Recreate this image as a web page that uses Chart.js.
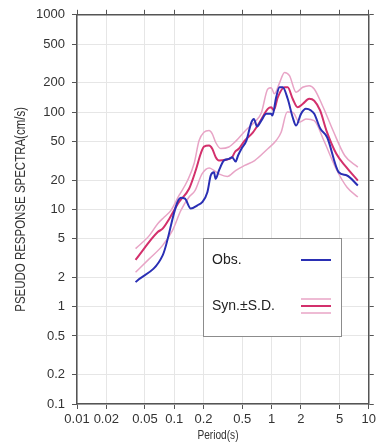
<!DOCTYPE html>
<html>
<head>
<meta charset="utf-8">
<script src="https://cdn.jsdelivr.net/npm/chart.js@4.4.1/dist/chart.umd.min.js"></script>
<style>
  html, body { margin: 0; padding: 0; background: #fff; }
  #wrap { width: 379px; height: 448px; }
</style>
</head>
<body>
<div id="wrap"><canvas id="psChart" width="379" height="448"></canvas></div>
<script>
// ----- axis ticks -----
const periodTicks = [0.01, 0.02, 0.05, 0.1, 0.2, 0.5, 1, 2, 5, 10];
const periodLabels = ['0.01', '0.02', '0.05', '0.1', '0.2', '0.5', '1', '2', '5', '10'];
const spectraTicks = [0.1, 0.2, 0.5, 1, 2, 5, 10, 20, 50, 100, 200, 500, 1000];
const spectraLabels = ['0.1', '0.2', '0.5', '1', '2', '5', '10', '20', '50', '100', '200', '500', '1000'];
const xTitle = 'Period(s)';
const yTitle = 'PSEUDO RESPONSE SPECTRA(cm/s)';

// ----- Obs. -----
const obsPeriod = [0.040, 0.076, 0.117, 0.129, 0.148, 0.173, 0.194, 0.219, 0.237, 0.256, 0.266, 0.288,
  0.324, 0.364, 0.394, 0.427, 0.453, 0.491, 0.552, 0.621, 0.659, 0.711, 0.785, 0.884, 0.993, 1.02,
  1.117, 1.208, 1.304, 1.467, 1.65, 1.79, 2.01, 2.26, 2.54, 2.75, 3.18, 3.73, 4.91, 5.97, 7.72];
const obsValue = [1.79, 3.37, 13.2, 12.9, 10.2, 11.0, 11.9, 15.0, 22.3, 24.1, 20.6, 25.1,
  31.8, 33.1, 34.4, 31, 35.8, 42, 51, 78.6, 85, 71, 81.8, 95.9, 95.9, 92,
  142, 180, 180, 137, 88.5, 72.7, 95.9, 108, 104, 95.9, 67.3, 55.2, 24.1, 22.3, 17.6];

// ----- Syn. (mean) -----
const synPeriod = [0.040, 0.0676, 0.076, 0.089, 0.112, 0.142, 0.166, 0.187, 0.202, 0.228, 0.246, 0.267,
  0.288, 0.337, 0.394, 0.419, 0.461, 0.53, 0.645, 0.755, 0.916, 0.993, 1.055, 1.16, 1.36, 1.467,
  1.65, 1.855, 2.09, 2.44, 2.75, 3.16, 3.67, 4.64, 5.87, 7.72];
const synValue = [3.03, 5.85, 6.34, 8.03, 11.9, 16.3, 25.1, 37.3, 44.3, 45.3, 42, 34.4,
  31.8, 32.4, 34.4, 38.7, 42, 51, 62, 78.6, 108, 112, 104, 142, 180, 180,
  137, 112, 121, 137, 131, 104, 64.6, 37.3, 27.2, 19.8];

// ----- Syn. + S.D. -----
const synUpPeriod = [0.040, 0.0556, 0.0676, 0.079, 0.0925, 0.112, 0.137, 0.16, 0.18, 0.202, 0.228, 0.246,
  0.267, 0.30, 0.364, 0.427, 0.55, 0.68, 0.785, 0.916, 0.993, 1.07, 1.21, 1.36, 1.53, 1.79,
  2.09, 2.44, 2.75, 3.40, 4.29, 5.65, 7.72];
const synUpValue = [3.95, 5.41, 7.13, 8.34, 9.77, 13.9, 19.8, 29.6, 51, 62, 64.6, 59.8,
  48.7, 42.3, 43.8, 50, 66, 80, 98, 173, 178, 154, 200, 256, 237, 160,
  180, 187, 173, 112, 64.6, 35.8, 27.2];

// ----- Syn. - S.D. -----
const synLowPeriod = [0.040, 0.0556, 0.076, 0.096, 0.117, 0.142, 0.164, 0.193, 0.229, 0.256, 0.295, 0.351,
  0.427, 0.53, 0.671, 0.916, 1.117, 1.256, 1.45, 1.65, 1.93, 2.26, 2.75, 3.45, 4.71, 5.97, 7.72];
const synLowValue = [2.26, 3.12, 4.27, 6.09, 9.77, 13.4, 15.7, 23.2, 26.7, 25.1, 22.9, 21.8,
  25.1, 28.3, 31.8, 42, 51, 62, 100, 99.5, 78.6, 85, 81.8, 51, 25.1, 16.9, 13.4];

const obsColor = '#2a2fb4';
const synColor = '#d3306c';
const sdColor = '#e8a4c6';
const frameColor = '#555';
const labelFont = { family: '"Liberation Sans", Arial, Helvetica, sans-serif', size: 13 };

function toPoints(xs, ys) {
  return xs.map((x, i) => ({ x: x, y: ys[i] }));
}

// legend box drawn inside the plot, like the original figure
const legendBox = {
  id: 'legendBox',
  afterDatasetsDraw(chart) {
    const ctx = chart.ctx;
    ctx.save();
    ctx.fillStyle = '#fff';
    ctx.fillRect(203, 238, 138, 98);
    ctx.strokeStyle = '#8c8c8c';
    ctx.lineWidth = 1;
    ctx.strokeRect(203.5, 238.5, 138, 98);

    ctx.font = '14px "Liberation Sans", Arial, sans-serif';
    ctx.fillStyle = '#222';
    ctx.textBaseline = 'middle';
    ctx.fillText('Obs.', 212, 260);
    ctx.fillText('Syn.\u00b1S.D.', 212, 306);

    const seg = (y, color, w) => {
      ctx.beginPath();
      ctx.strokeStyle = color;
      ctx.lineWidth = w;
      ctx.moveTo(301, y);
      ctx.lineTo(331, y);
      ctx.stroke();
    };
    seg(260, obsColor, 2);
    seg(299, sdColor, 1.5);
    seg(306, synColor, 2);
    seg(313, sdColor, 1.5);
    ctx.restore();
  }
};

// axis titles use a condensed face in the original; squeeze the text a little
const axisTitles = {
  id: 'axisTitles',
  afterDraw(chart) {
    const ctx = chart.ctx;
    const area = chart.chartArea;
    ctx.save();
    ctx.fillStyle = '#333';
    ctx.textAlign = 'center';
    ctx.textBaseline = 'middle';

    ctx.save();
    ctx.font = '14px "Liberation Sans", Arial, sans-serif';
    ctx.translate(21, (area.top + area.bottom) / 2);
    ctx.rotate(-Math.PI / 2);
    ctx.scale(0.82, 1);
    ctx.fillText(yTitle, 0, 0);
    ctx.restore();

    ctx.save();
    ctx.font = '13px "Liberation Sans", Arial, sans-serif';
    ctx.translate(218, 435);
    ctx.scale(0.78, 1);
    ctx.fillText(xTitle, 0, 0);
    ctx.restore();

    ctx.restore();
  }
};

const setTicks = list => scale => { scale.ticks = list.map(v => ({ value: v })); };

new Chart(document.getElementById('psChart'), {
  type: 'scatter',
  data: {
    datasets: [
      { label: 'Obs.', data: toPoints(obsPeriod, obsValue), borderColor: obsColor, borderWidth: 2, order: 0 },
      { label: 'Syn.', data: toPoints(synPeriod, synValue), borderColor: synColor, borderWidth: 2, order: 1 },
      { label: '+S.D.', data: toPoints(synUpPeriod, synUpValue), borderColor: sdColor, borderWidth: 1.5, order: 2 },
      { label: '-S.D.', data: toPoints(synLowPeriod, synLowValue), borderColor: sdColor, borderWidth: 1.5, order: 2 }
    ].map(ds => Object.assign(ds, {
      showLine: true,
      pointRadius: 0,
      fill: false,
      cubicInterpolationMode: 'monotone'
    }))
  },
  options: {
    responsive: false,
    animation: false,
    layout: { padding: 0 },
    plugins: {
      legend: { display: false },
      tooltip: { enabled: false }
    },
    scales: {
      x: {
        type: 'logarithmic',
        position: 'bottom',
        min: 0.01,
        max: 10,
        afterBuildTicks: setTicks(periodTicks),
        afterFit: s => { s.height = 44; },
        ticks: {
          autoSkip: false,
          maxRotation: 0,
          padding: 3,
          color: '#333',
          font: labelFont,
          callback: (v, i) => periodLabels[i]
        },
        grid: { color: '#e6e6e6', tickColor: frameColor, tickLength: 5 },
        border: { color: frameColor, width: 1.5 }
      },
      x2: {
        type: 'logarithmic',
        position: 'top',
        min: 0.01,
        max: 10,
        afterBuildTicks: setTicks(periodTicks),
        afterFit: s => { s.height = 14; },
        ticks: { display: false },
        grid: { drawOnChartArea: false, tickColor: frameColor, tickLength: 5 },
        border: { color: frameColor, width: 1.5 }
      },
      y: {
        type: 'logarithmic',
        position: 'left',
        min: 0.1,
        max: 1000,
        afterBuildTicks: setTicks(spectraTicks),
        afterFit: s => { s.width = 77; },
        ticks: {
          autoSkip: false,
          padding: 7,
          color: '#333',
          font: labelFont,
          callback: (v, i) => spectraLabels[i]
        },
        grid: { color: '#e6e6e6', tickColor: frameColor, tickLength: 5 },
        border: { color: frameColor, width: 1.5 }
      },
      y2: {
        type: 'logarithmic',
        position: 'right',
        min: 0.1,
        max: 1000,
        afterBuildTicks: setTicks(spectraTicks),
        afterFit: s => { s.width = 8; },
        ticks: { display: false },
        grid: { drawOnChartArea: false, tickColor: frameColor, tickLength: 5 },
        border: { color: frameColor, width: 1.5 }
      }
    }
  },
  plugins: [legendBox, axisTitles]
});
</script>
</body>
</html>
